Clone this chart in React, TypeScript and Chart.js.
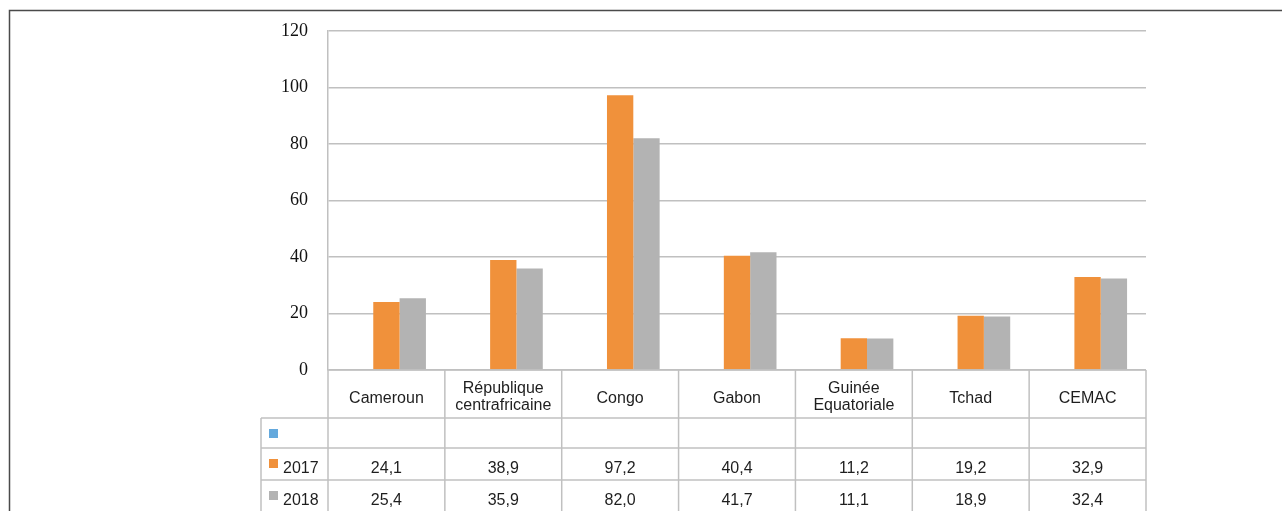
import React, { useEffect, useRef } from 'react';
import { Chart, registerables } from 'chart.js';

Chart.register(...registerables);

// ---- Data ----
const categories: string[][] = [
  ['Cameroun'],
  ['République', 'centrafricaine'],
  ['Congo'],
  ['Gabon'],
  ['Guinée', 'Equatoriale'],
  ['Tchad'],
  ['CEMAC'],
];
const seriesNames: string[] = ['', '2017', '2018'];
const blankSeries: (number | null)[] = [null, null, null, null, null, null, null];
const values2017: number[] = [24.1, 38.9, 97.2, 40.4, 11.2, 19.2, 32.9];
const values2018: number[] = [25.4, 35.9, 82.0, 41.7, 11.1, 18.9, 32.4];
const yMin = 0;
const yMax = 120;
const yStep = 20;

const seriesColors = ['#64A9DD', '#F0913B', '#B3B3B3'];

const fmt = (v: number) => v.toFixed(1).replace('.', ',');

const GRID = '#C0C0C0';
const TEXT = '#1e1e1e';
const TABLE_FONT = '16px "Liberation Sans", Arial, sans-serif';

const tablePlugin = {
  id: 'dataTable',
  beforeDraw(chart: any) {
    const ctx = chart.ctx as CanvasRenderingContext2D;
    ctx.save();
    ctx.fillStyle = '#ffffff';
    ctx.fillRect(0, 0, chart.width, chart.height);
    ctx.strokeStyle = '#4a4a4a';
    ctx.lineWidth = 1.5;
    ctx.beginPath();
    ctx.moveTo(9.5, chart.height);
    ctx.lineTo(9.5, 10.5);
    ctx.lineTo(chart.width, 10.5);
    ctx.stroke();
    ctx.restore();
  },
  afterDraw(chart: any) {
    const ctx = chart.ctx as CanvasRenderingContext2D;
    const { left, right, bottom } = chart.chartArea;
    const H = chart.height;
    const n = categories.length;
    const cw = (right - left) / n;
    const legendLeft = left - 67;
    const catRowBottom = bottom + 48;
    const rowTops = [catRowBottom, catRowBottom + 30, catRowBottom + 62];
    const xs = chart.scales.x;

    const line = (x1: number, y1: number, x2: number, y2: number) => {
      ctx.beginPath();
      ctx.moveTo(x1, y1);
      ctx.lineTo(x2, y2);
      ctx.stroke();
    };

    ctx.save();
    ctx.strokeStyle = GRID;
    ctx.lineWidth = 1.5;
    for (let i = 0; i <= n; i++) {
      const x = left + i * cw;
      line(x, bottom, x, H);
    }
    line(legendLeft, catRowBottom, legendLeft, H);
    line(left, bottom, right, bottom);
    rowTops.forEach((y) => line(legendLeft, y, right, y));

    // category labels
    ctx.fillStyle = TEXT;
    ctx.font = TABLE_FONT;
    ctx.textAlign = 'center';
    ctx.textBaseline = 'alphabetic';
    categories.forEach((lines, i) => {
      const cx = xs.getPixelForValue(i);
      if (lines.length === 1) {
        ctx.fillText(lines[0], cx, bottom + 33);
      } else {
        ctx.fillText(lines[0], cx, bottom + 23);
        ctx.fillText(lines[1], cx, bottom + 40);
      }
    });

    // series rows
    chart.data.datasets.forEach((ds: any, r: number) => {
      const top = rowTops[r];
      ctx.fillStyle = ds.backgroundColor;
      ctx.fillRect(legendLeft + 8, top + 11, 9, 9);
      ctx.fillStyle = TEXT;
      ctx.textAlign = 'left';
      ctx.fillText(ds.label, legendLeft + 22, top + 25);
      ctx.textAlign = 'center';
      ds.data.forEach((v: number | null, i: number) => {
        if (v == null) return;
        ctx.fillText(fmt(v), xs.getPixelForValue(i), top + 25);
      });
    });
    ctx.restore();
  },
};

export default function App() {
  const ref = useRef<HTMLCanvasElement | null>(null);

  useEffect(() => {
    document.body.style.margin = '0';
    const canvas = ref.current;
    if (!canvas) return;
    const chart = new Chart(canvas, {
      type: 'bar',
      data: {
        labels: categories.map((c) => c.join(' ')),
        datasets: [
          { label: seriesNames[0], data: blankSeries, backgroundColor: seriesColors[0] },
          { label: seriesNames[1], data: values2017, backgroundColor: seriesColors[1] },
          { label: seriesNames[2], data: values2018, backgroundColor: seriesColors[2] },
        ],
      },
      options: {
        responsive: false,
        animation: false,
        devicePixelRatio: 1,
        layout: { padding: { top: 29, right: 136, bottom: 141, left: 0 } },
        datasets: {
          bar: { categoryPercentage: 0.676, barPercentage: 1, borderWidth: 0 },
        },
        plugins: {
          legend: { display: false },
          tooltip: { enabled: false },
        },
        scales: {
          x: { display: false },
          y: {
            min: yMin,
            max: yMax,
            ticks: {
              stepSize: yStep,
              padding: 20,
              color: '#111',
              font: { family: '"Liberation Serif", "Times New Roman", serif', size: 18 },
            },
            grid: { color: GRID, lineWidth: 1.5, drawTicks: false },
            border: { display: true, color: GRID, width: 1.5 },
            afterFit: (scale: any) => {
              scale.width = 328;
            },
          },
        },
      },
      plugins: [tablePlugin],
    } as any);
    return () => chart.destroy();
  }, []);

  return (
    <div style={{ width: 1282, height: 511 }}>
      <canvas ref={ref} width={1282} height={511} style={{ display: 'block' }} />
    </div>
  );
}
